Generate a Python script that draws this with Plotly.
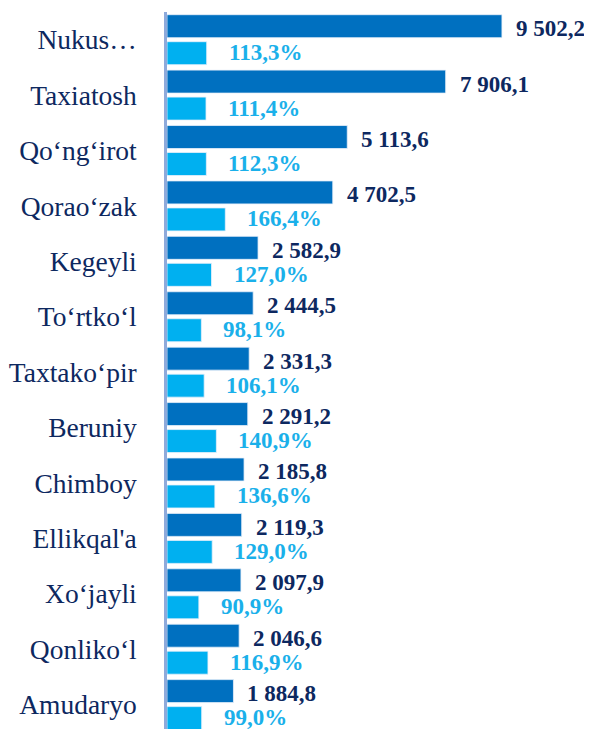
import plotly.graph_objects as go

categories = ["Nukus…", "Taxiatosh", "Qo‘ng‘irot", "Qorao‘zak", "Kegeyli", "To‘rtko‘l",
              "Taxtako‘pir", "Beruniy", "Chimboy", "Ellikqal'a", "Xo‘jayli", "Qonliko‘l", "Amudaryo"]
values = [9502.2, 7906.1, 5113.6, 4702.5, 2582.9, 2444.5, 2331.3, 2291.2, 2185.8, 2119.3, 2097.9, 2046.6, 1884.8]
value_labels = ["9 502,2", "7 906,1", "5 113,6", "4 702,5", "2 582,9", "2 444,5", "2 331,3",
                "2 291,2", "2 185,8", "2 119,3", "2 097,9", "2 046,6", "1 884,8"]
percents = [113.3, 111.4, 112.3, 166.4, 127.0, 98.1, 106.1, 140.9, 136.6, 129.0, 90.9, 116.9, 99.0]
percent_labels = ["113,3%", "111,4%", "112,3%", "166,4%", "127,0%", "98,1%", "106,1%",
                  "140,9%", "136,6%", "129,0%", "90,9%", "116,9%", "99,0%"]

DARK = "#0070c0"
LIGHT = "#00b0f0"
NAVY = "#0d2860"
PCT = "#1ab0ea"
FONT = "Liberation Serif"

fig = go.Figure()
fig.add_trace(go.Bar(
    y=categories, x=values, orientation="h", xaxis="x", yaxis="y",
    marker=dict(color=DARK, line=dict(color="#e8f0fa", width=0.8)),
    width=0.415, offset=-0.4513, hoverinfo="x+y",
))
fig.add_trace(go.Bar(
    y=categories, x=percents, orientation="h", xaxis="x2", yaxis="y",
    marker=dict(color=LIGHT, line=dict(color="#e8f0fa", width=0.8)),
    width=0.415, offset=0.036, hoverinfo="x+y",
))

annotations = []
for c, v, t in zip(categories, values, value_labels):
    annotations.append(dict(x=v, y=c, xref="x", yref="y", text="<b>" + t + "</b>", showarrow=False,
                            xanchor="left", yanchor="middle", xshift=12, yshift=11,
                            font=dict(family=FONT, size=23, color=NAVY)))
for c, p, t in zip(categories, percents, percent_labels):
    annotations.append(dict(x=p, y=c, xref="x2", yref="y", text="<b>" + t + "</b>", showarrow=False,
                            xanchor="left", yanchor="middle", xshift=20, yshift=-13,
                            font=dict(family=FONT, size=23, color=PCT)))

fig.update_layout(
    template="none",
    width=584, height=721,
    margin=dict(l=159, r=0, t=4, b=0),
    paper_bgcolor="white", plot_bgcolor="white",
    showlegend=False,
    annotations=annotations,
    font=dict(family=FONT, color=NAVY),
    xaxis=dict(range=[0, 12057], visible=False, fixedrange=True),
    xaxis2=dict(range=[0, 1213], overlaying="x", visible=False, fixedrange=True),
    yaxis=dict(
        type="category", categoryorder="array", categoryarray=categories,
        range=[12.44, -0.5],
        showline=True, linecolor="#8eaadb", linewidth=2.5,
        showgrid=False, zeroline=False, ticks="",
        ticklabelstandoff=22,
        tickfont=dict(family=FONT, size=27.5, color=NAVY),
    ),
)

fig.write_html("out.html")
